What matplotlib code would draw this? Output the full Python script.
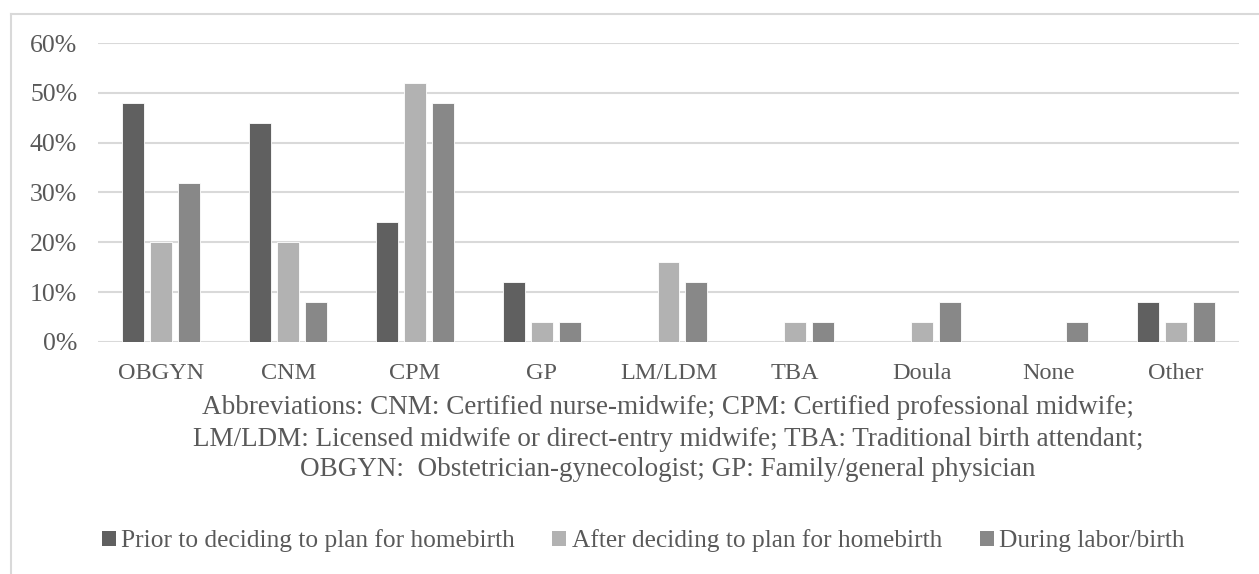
import numpy as np
import matplotlib
matplotlib.use("Agg")
from matplotlib import pyplot as plt
from matplotlib.patches import Patch

# Data (percent of respondents)
categories = ["OBGYN", "CNM", "CPM", "GP", "LM/LDM", "TBA", "Doula", "None", "Other"]
prior = [48, 44, 24, 12, 0, 0, 0, 0, 8]
after = [20, 20, 52, 4, 16, 4, 4, 0, 4]
during = [32, 8, 48, 4, 12, 4, 8, 4, 8]
series_names = ["Prior to deciding to plan for homebirth",
                "After deciding to plan for homebirth",
                "During labor/birth"]
abbrev_lines = [
    "Abbreviations: CNM: Certified nurse-midwife; CPM: Certified professional midwife;",
    "LM/LDM: Licensed midwife or direct-entry midwife; TBA: Traditional birth attendant;",
    "OBGYN:  Obstetrician-gynecologist; GP: Family/general physician",
]

colors = ["#606060", "#b2b2b2", "#888888"]
text_col = "#595959"
grid_col = "#d9d9d9"

plt.rcParams["font.family"] = ["Liberation Serif", "DejaVu Serif"]

W, H = 1259, 574
fig = plt.figure(figsize=(W / 100, H / 100), dpi=100)

# light frame around the chart (left and top visible in the original)
fig.add_artist(plt.Line2D([11 / W, 11 / W], [0, 1 - 14 / H], color=grid_col, lw=1.5))
fig.add_artist(plt.Line2D([11 / W, 1], [1 - 14 / H, 1 - 14 / H], color=grid_col, lw=1.5))

ax = fig.add_axes([98 / W, 1 - 342 / H, (1239 - 98) / W, (342 - 43) / H])

x = np.arange(len(categories))
bw = 22 / 126.8
off = 28 / 126.8
for i, vals in enumerate([prior, after, during]):
    ax.bar(x + (i - 1) * off, np.array(vals) / 100, width=bw, color=colors[i],
           edgecolor="white", linewidth=0.6, zorder=3)

ax.set_xlim(-0.5, len(categories) - 0.5)
ax.set_ylim(0, 0.6)
ax.set_yticks(np.arange(0, 0.61, 0.1))
ax.set_yticklabels([f"{int(round(v * 100))}%" for v in np.arange(0, 0.61, 0.1)])
ax.set_xticks(x)
ax.set_xticklabels(categories)
ax.yaxis.grid(True, color=grid_col, lw=1.5, zorder=0)
for s in ax.spines.values():
    s.set_visible(False)
ax.tick_params(axis="both", length=0, colors=text_col)
ax.tick_params(axis="x", labelsize=17.5, pad=15)
ax.tick_params(axis="y", labelsize=18.5, pad=15)

# abbreviation note under the axis
for k, line in enumerate(abbrev_lines):
    fig.text(668 / W, 1 - (408 + 31 * k) / H, line, ha="center", va="center",
             fontsize=19.5, color=text_col)

handles = [Patch(facecolor=c, edgecolor="none") for c in colors]
leg = fig.legend(handles, series_names, loc="center", ncol=3,
                 bbox_to_anchor=(643 / W, 1 - 541 / H), frameon=False,
                 fontsize=18.3, handlelength=0.55, handleheight=0.55,
                 handletextpad=0.2, columnspacing=1.5)
for t in leg.get_texts():
    t.set_color(text_col)

fig.savefig("out.png", dpi=100)
